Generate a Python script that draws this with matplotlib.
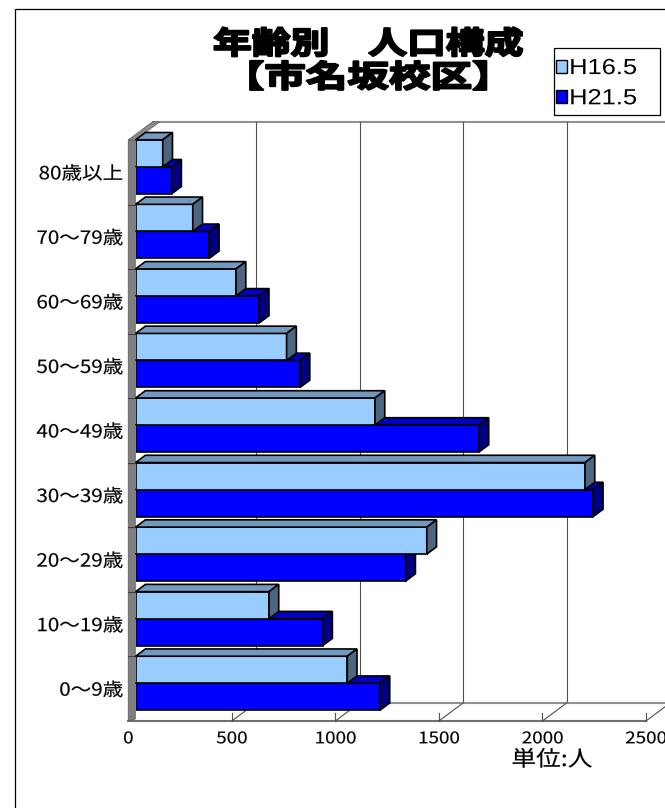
import numpy as np
import matplotlib
matplotlib.use('Agg')
import matplotlib.pyplot as plt
from matplotlib.patches import Polygon, Rectangle, Patch
from matplotlib.patheffects import AbstractPathEffect
from matplotlib.transforms import Affine2D
from matplotlib.lines import Line2D

# ---------------- data ----------------
categories = ['0～9歳', '10～19歳', '20～29歳', '30～39歳', '40～49歳',
              '50～59歳', '60～69歳', '70～79歳', '80歳以上']
h16 = [1022, 644, 1406, 2170, 1156, 729, 485, 276, 131]
h21 = [1180, 903, 1304, 2210, 1658, 794, 597, 356, 174]
series_names = ['H16.5', 'H21.5']
xticks = [0, 500, 1000, 1500, 2000, 2500]
title_lines = ['年齢別　人口構成', '【市名坂校区】']
unit_label = '単位:人'

# ---------------- style ----------------
W, H, DPI = 665, 808, 100
CJK = ['Noto Sans CJK JP', 'DejaVu Sans']
C16, C16_top, C16_side = '#99CCFF', '#7399BF', '#4D6680'
C21, C21_top, C21_side = '#0000FF', '#0000BF', '#000080'


class HStretch(AbstractPathEffect):
    """Draw text horizontally stretched (the reference glyphs are wide)."""
    def __init__(self, sx, anchor='center', stroke=0.0):
        super().__init__()
        self.sx, self.anchor, self.stroke = sx, anchor, stroke

    def draw_path(self, renderer, gc, tpath, affine, rgbFace=None):
        ext = tpath.get_extents()
        if self.anchor == 'left':
            c = 0.0
        elif self.anchor == 'right':
            c = ext.x1
        else:
            c = (ext.x0 + ext.x1) / 2
        aff = Affine2D().translate(-c, 0).scale(self.sx, 1).translate(c, 0) + affine
        if self.stroke > 0:
            gc0 = renderer.new_gc()
            gc0.copy_properties(gc)
            gc0.set_linewidth(self.stroke)
            gc0.set_foreground(rgbFace)
            gc0.set_joinstyle('round')
            renderer.draw_path(gc0, tpath, aff, rgbFace)
            gc0.restore()
        else:
            renderer.draw_path(gc, tpath, aff, rgbFace)


fig = plt.figure(figsize=(W / DPI, H / DPI), dpi=DPI)
fig.patch.set_facecolor('white')

# geometry (pixels) of the bar plane
PX = 0.2071          # px per person
PY = 64.56           # px per category
AX_L, AX_TOP, AX_BOT = 135.6, 134.5, 715.5
ax = fig.add_axes([AX_L / W, 1 - AX_BOT / H, (W - AX_L) / W, (AX_BOT - AX_TOP) / H])
xmax = (W - AX_L) / PX
ax.set_xlim(0, xmax)
ax.set_ylim(-0.5, 8.5)
ax.patch.set_visible(False)
for s in ax.spines.values():
    s.set_visible(False)
ax.set_xticks([])

DX = 24.4 / PX       # full depth, in data units
DY = 18.2 / PY
BAR_D0, BAR_D1 = 0.3, 0.7


def off(d):
    return ((d - BAR_D0) * DX, (d - BAR_D0) * DY)


fx0, fy0 = off(0)
bx0, by0 = off(1)

# back wall top border
ax.add_line(Line2D([bx0, xmax + DX], [8.5 + by0] * 2, color='#909090', lw=1.5,
                   clip_on=False, zorder=1))
# back wall gridlines
for v in xticks[1:]:
    ax.add_line(Line2D([v + bx0] * 2, [-0.5 + by0, 8.5 + by0], color='#505050',
                       lw=0.8, clip_on=False, zorder=1))
# floor
ax.add_line(Line2D([bx0, xmax + DX], [-0.5 + by0] * 2, color='#909090', lw=1.5,
                   clip_on=False, zorder=1))
ax.add_line(Line2D([fx0, xticks[-1] + fx0], [-0.5 + fy0] * 2, color='#707070', lw=1.5,
                   clip_on=False, zorder=1))
for v in xticks[1:]:
    ax.add_line(Line2D([v + fx0, v + bx0], [-0.5 + fy0, -0.5 + by0], color='#505050',
                       lw=0.8, clip_on=False, zorder=1))
    ax.add_line(Line2D([v + fx0] * 2, [-0.5 + fy0, -0.5 + fy0 + 8 / PY], color='#505050',
                       lw=0.8, clip_on=False, zorder=1))

# left wall (thickness strip + top cap)
WT = 7 / PX
ax.add_patch(Polygon([(fx0, -0.5 + fy0), (fx0 + WT, -0.5 + fy0 + 2 / PY),
                      (fx0 + WT, 8.5 + fy0), (fx0, 8.5 + fy0)],
                     closed=True, facecolor='#808080', edgecolor='#606060', lw=0.6,
                     clip_on=False, zorder=2))
ax.add_patch(Polygon([(fx0, 8.5 + fy0), (fx0 + WT, 8.5 + fy0),
                      (bx0 + WT, 8.5 + by0), (bx0, 8.5 + by0)],
                     closed=True, facecolor='#8c8c8c', edgecolor='#606060', lw=0.6,
                     clip_on=False, zorder=2))
for i in range(1, len(categories)):
    ax.add_line(Line2D([fx0, fx0 + WT], [i - 0.5 + fy0] * 2, color='#404040', lw=0.8,
                       clip_on=False, zorder=2))

# bars
BH = 27 / PY
ddx = (BAR_D1 - BAR_D0) * DX
ddy = (BAR_D1 - BAR_D0) * DY
z = 3
for i in range(len(categories)):
    for vals, y0, cf, ct, cs in ((h21, i - BH, C21, C21_top, C21_side),
                                 (h16, i, C16, C16_top, C16_side)):
        v = vals[i]
        y1 = y0 + BH
        ax.barh(y0, v, height=BH, left=0, align='edge', color=cf, edgecolor='black',
                linewidth=1.2, zorder=z)
        ax.add_patch(Polygon([(0, y1), (v, y1), (v + ddx, y1 + ddy), (ddx, y1 + ddy)],
                             closed=True, facecolor=ct, edgecolor='black', lw=1.2,
                             joinstyle='miter', zorder=z, clip_on=False))
        ax.add_patch(Polygon([(v, y0), (v + ddx, y0 + ddy), (v + ddx, y1 + ddy), (v, y1)],
                             closed=True, facecolor=cs, edgecolor='black', lw=1.2,
                             joinstyle='miter', zorder=z, clip_on=False))
        z += 1

# category labels (front plane)
ax.set_yticks([i + fy0 for i in range(len(categories))], labels=categories)
ax.tick_params(axis='y', length=0, pad=12.6 * 72 / DPI, labelsize=13)
for t in ax.get_yticklabels():
    t.set_fontfamily(CJK)
    t.set_path_effects([HStretch(1.14, 'right', stroke=0.12)])

# value labels (front plane)
ylab = -0.5 - (743.3 - AX_BOT) / PY
for v in xticks:
    ax.text(v + fx0, ylab, str(v), ha='center', va='baseline', fontsize=11.5,
            family=CJK, clip_on=False, path_effects=[HStretch(1.18, stroke=0.12)])

fig.text(552 / W, 1 - 760 / H, unit_label, ha='center', va='center', fontsize=15.5,
         family=CJK, path_effects=[HStretch(1.15, stroke=0.12)])

# title
fig.text(368 / W, 1 - 44.5 / H, title_lines[0], ha='center', va='center', fontsize=22,
         fontweight='bold', family=CJK, path_effects=[HStretch(1.27, stroke=1.6)])
fig.text(368 / W, 1 - 78 / H, title_lines[1], ha='center', va='center', fontsize=22,
         fontweight='bold', family=CJK, path_effects=[HStretch(1.36, stroke=1.6)])

# legend (frame drawn separately so its size matches the reference box)
LEG_X0, LEG_X1, LEG_Y0, LEG_Y1 = 554, 660, 48.3, 115
handles = [Patch(facecolor=C16, edgecolor='black', lw=1),
           Patch(facecolor=C21, edgecolor='black', lw=1)]
leg = fig.legend(handles, series_names, loc='upper left',
                 bbox_to_anchor=((556 - 0.3 * 15.8 * DPI / 72) / W, 1 - 51.5 / H),
                 prop={'family': 'Liberation Sans', 'size': 15.8},
                 handlelength=0.5, handleheight=0.5, handletextpad=0.1,
                 borderpad=0.3, labelspacing=0.42, borderaxespad=0, frameon=False)
for t in leg.get_texts():
    t.set_path_effects([HStretch(1.16, 'left')])
fig.add_artist(Rectangle((LEG_X0 / W, 1 - LEG_Y1 / H), (LEG_X1 - LEG_X0) / W,
                         (LEG_Y1 - LEG_Y0) / H, transform=fig.transFigure,
                         fill=False, edgecolor='black', lw=0.9))

# outer chart border (extends past right and bottom edges)
fig.add_artist(Rectangle((14.7 / W, -0.1), 1.2, 1.1 - 8.7 / H, transform=fig.transFigure,
                         fill=False, edgecolor='black', lw=0.9))

fig.savefig('out.png', dpi=DPI)
